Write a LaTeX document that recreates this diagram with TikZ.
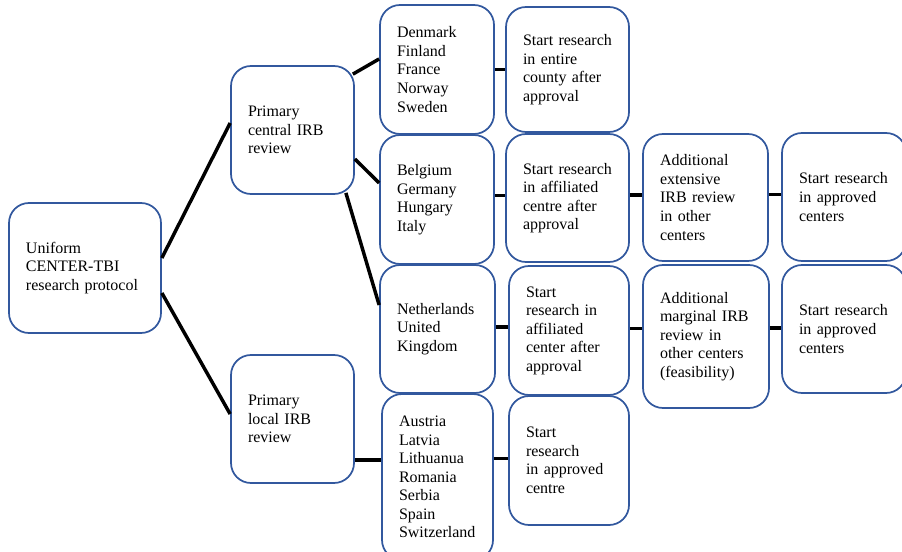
\documentclass[tikz,border=0pt]{standalone}
\usepackage{fontspec}
\setmainfont{Liberation Serif}
\definecolor{boxblue}{RGB}{50,88,158}
\begin{document}
\begin{tikzpicture}[x=0.75pt,y=-0.75pt,
  box/.style={draw=boxblue, line width=1.3pt, rounded corners=15pt, align=left,
    inner xsep=12.75pt, inner ysep=0pt, anchor=center,
    font=\fontsize{12pt}{13.9pt}\selectfont},
  link/.style={draw=black, line width=2.6pt}]
\useasboundingbox (0,0) rectangle (902,552);
% column 1
\node[box, minimum width=114pt, minimum height=97.5pt, text width=88.5pt] (uni) at (85,268) {Uniform\\CENTER-TBI\\research protocol};
% column 2
\node[box, minimum width=92.25pt, minimum height=96pt, text width=66.75pt] (cen) at (292.5,130) {Primary\\central IRB\\review};
\node[box, minimum width=92.25pt, minimum height=96pt, text width=66.75pt] (loc) at (292.5,419) {Primary\\local IRB\\review};
% column 3
\node[box, minimum width=85.5pt, minimum height=96.75pt, text width=60pt] (dk) at (437,69.5) {Denmark\\Finland\\France\\Norway\\Sweden};
\node[box, minimum width=85.5pt, minimum height=96.75pt, text width=60pt] (be) at (437,199.5) {Belgium\\Germany\\Hungary\\Italy};
\node[box, minimum width=86.25pt, minimum height=96pt, text width=60.75pt] (nl) at (437.5,329) {Netherlands\\United\\Kingdom\\[13.9pt]};
\node[box, minimum width=83.25pt, minimum height=124.5pt, text width=57.75pt] (at) at (437.5,477) {Austria\\Latvia\\Lithuanua\\Romania\\Serbia\\Spain\\Switzerland};
% column 4
\node[box, minimum width=92.25pt, minimum height=93.75pt, text width=66.75pt] (s1) at (567.5,69.5) {Start research\\in entire\\county after\\approval};
\node[box, minimum width=92.25pt, minimum height=96pt, text width=66.75pt] (s2) at (567.5,198) {Start research\\in affiliated\\centre after\\approval};
\node[box, minimum width=90pt, minimum height=96.75pt, text width=64.5pt] (s3) at (569,330.5) {Start\\research in\\affiliated\\center after\\approval};
\node[box, minimum width=90pt, minimum height=96.75pt, text width=64.5pt] (s4) at (569,460.5) {Start\\research\\in approved\\centre};
% column 5
\node[box, minimum width=93.75pt, minimum height=95.25pt, text width=68.25pt] (a1) at (705.5,197.5) {Additional\\extensive\\IRB review\\in other\\centers};
\node[box, minimum width=94.5pt, minimum height=107.25pt, text width=69pt] (a2) at (706,336.5) {Additional\\marginal IRB\\review in\\other centers\\(feasibility)};
% column 6
\node[box, minimum width=93pt, minimum height=96pt, text width=67.5pt] (r1) at (844,197) {Start research\\in approved\\centers};
\node[box, minimum width=93pt, minimum height=96pt, text width=67.5pt] (r2) at (844,329) {Start research\\in approved\\centers\\[13.9pt]};
% connectors
\draw[link] ([yshift=7.5pt]uni.east) -- ([yshift=5.25pt]cen.west);
\draw[link] ([yshift=-18.75pt]uni.east) -- ([yshift=3.75pt]loc.west);
\draw[link] ([shift={(-1.5pt,-6.75pt)}]cen.north east) -- ([yshift=7.9pt]dk.west);
\draw[link] ([yshift=-21.75pt]cen.east) -- ([yshift=12.4pt]be.west);
\draw[link] ([shift={(-6.75pt,1.5pt)}]cen.south east) -- ([yshift=18pt]nl.west);
\draw[link] ([yshift=-30.75pt]loc.east) -- ([yshift=-30.75pt]loc.east -| at.west);
\draw[link] (dk.east) -- (dk.east -| s1.west);
\draw[link] ([yshift=3pt]be.east) -- ([yshift=3pt]be.east -| s2.west);
\draw[link] ([yshift=2.25pt]s2.east) -- ([yshift=2.25pt]s2.east -| a1.west);
\draw[link] ([yshift=2.25pt]a1.east) -- ([yshift=2.25pt]a1.east -| r1.west);
\draw[link] ([yshift=1.5pt]nl.east) -- ([yshift=1.5pt]nl.east -| s3.west);
\draw[link] ([yshift=1.5pt]s3.east) -- ([yshift=1.5pt]s3.east -| a2.west);
\draw[link] ([yshift=0.75pt]r2.west -| a2.east) -- ([yshift=0.75pt]r2.west);
\draw[link] ([yshift=1.5pt]s4.west -| at.east) -- ([yshift=1.5pt]s4.west);
\end{tikzpicture}
\end{document}
